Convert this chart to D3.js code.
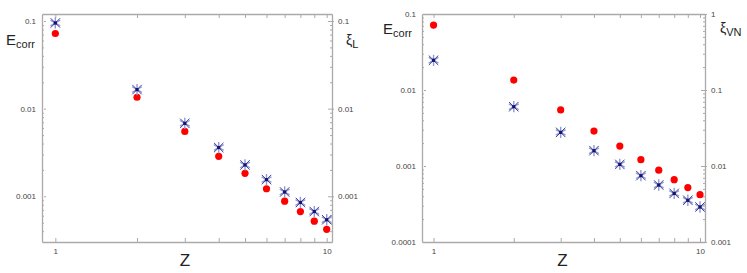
<!doctype html>
<html>
<head>
<meta charset="utf-8">
<script src="https://d3js.org/d3.v7.min.js"></script>
<style>
  body { margin: 0; background: #fff; }
  text { font-family: "Liberation Sans", Arial, sans-serif; }
</style>
</head>
<body>
<script>
// atomic number Z
var Z = [1, 2, 3, 4, 5, 6, 7, 8, 9, 10];

// left panel: correlation energy (red dots) and xi_L (blue stars)
var ecorrLeft = [0.072, 0.0135, 0.0055, 0.00286, 0.00183, 0.00122, 0.00088, 0.00067, 0.00052, 0.00042];
var xiL = [0.095, 0.0165, 0.0068, 0.0036, 0.00228, 0.00155, 0.00112, 0.00085, 0.00067, 0.00054];

// right panel: correlation energy (red dots) and xi_VN (blue stars)
var ecorrRight = [0.0716, 0.0135, 0.00546, 0.00288, 0.00183, 0.00121, 0.00088, 0.00066, 0.00052, 0.00042];
var xiVN = [0.246, 0.0603, 0.0277, 0.0159, 0.0105, 0.00746, 0.00562, 0.00436, 0.00354, 0.00289];

var leftTicks = [0.1, 0.01, 0.001];
var rightTicksA = [0.1, 0.01, 0.001, 0.0001];
var rightTicksB = [1, 0.1, 0.01, 0.001];

var svg = d3.select("body").append("svg").attr("width", 747).attr("height", 273);

function minors(lo, hi) {
  var out = [];
  for (var e = -5; e <= 1; e++) {
    for (var m = 2; m <= 9; m++) {
      var v = m * Math.pow(10, e);
      if (v > lo && v < hi) out.push(v);
    }
  }
  return out;
}

function panel(o) {
  var g = svg.append("g");
  var x = d3.scaleLog().domain(o.xdom).range([o.x0, o.x1]);
  var yA = d3.scaleLog().domain(o.yA).range([o.y1, o.y0]);
  var yB = d3.scaleLog().domain(o.yB).range([o.y1, o.y0]);
  var fmt = function (d) { return String(+d.toPrecision(1)); };

  // frame axes
  function styleAxis(sel) {
    sel.selectAll("path").attr("stroke", "#aaa").attr("stroke-width", 1.3);
    sel.selectAll("line").attr("stroke", "#aaa");
    sel.selectAll("text").attr("fill", "#444").style("font-size", "8px");
  }
  var bottom = g.append("g").attr("transform", "translate(0," + o.y1 + ")")
    .call(d3.axisBottom(x).tickValues(Z).tickSizeInner(-4).tickSizeOuter(0).tickPadding(6)
      .tickFormat(function (d) { return (d === 1 || d === 10) ? d : ""; }));
  styleAxis(bottom);
  var top = g.append("g").attr("transform", "translate(0," + o.y0 + ")")
    .call(d3.axisTop(x).tickValues(Z).tickSizeInner(-4).tickSizeOuter(0).tickFormat(""));
  styleAxis(top);

  var left = g.append("g").attr("transform", "translate(" + o.x0 + ",0)")
    .call(d3.axisLeft(yA).tickValues(o.ticksA).tickSizeInner(-4).tickSizeOuter(0).tickPadding(6).tickFormat(fmt));
  styleAxis(left);
  left.selectAll(".tick line").attr("x1", 2);
  var leftMin = g.append("g").attr("transform", "translate(" + o.x0 + ",0)")
    .call(d3.axisLeft(yA).tickValues(minors(o.yA[0], o.yA[1])).tickSizeInner(-2).tickSizeOuter(0).tickFormat(""));
  styleAxis(leftMin);
  leftMin.select("path").remove();

  var right = g.append("g").attr("transform", "translate(" + o.x1 + ",0)")
    .call(d3.axisRight(yB).tickValues(o.ticksB).tickSizeInner(-4).tickSizeOuter(0).tickPadding(6).tickFormat(fmt));
  styleAxis(right);
  right.selectAll(".tick line").attr("x1", -4).attr("x2", 2);
  var rightMin = g.append("g").attr("transform", "translate(" + o.x1 + ",0)")
    .call(d3.axisRight(yB).tickValues(minors(o.yB[0], o.yB[1])).tickSizeInner(-2).tickSizeOuter(0).tickFormat(""));
  styleAxis(rightMin);
  rightMin.select("path").remove();

  // red dots
  g.selectAll("circle.ec").data(o.red).enter().append("circle")
    .attr("cx", function (d, i) { return x(Z[i]); })
    .attr("cy", function (d) { return yA(d); })
    .attr("r", 3.6).attr("fill", "#f00");

  // blue stars
  var star = d3.symbol().type(d3.symbolAsterisk).size(90);
  var s = g.selectAll("g.st").data(o.blue).enter().append("g")
    .attr("transform", function (d, i) { return "translate(" + x(Z[i]) + "," + yB(d) + ")"; });
  s.append("path").attr("d", star).attr("fill", "none").attr("stroke", "#939ad2").attr("stroke-width", 1.4);
  s.append("path").attr("d", d3.symbol().type(d3.symbolTimes).size(60))
    .attr("fill", "none").attr("stroke", "#3a3f9a").attr("stroke-width", 1);
  s.append("rect").attr("x", -1.6).attr("y", -1.6).attr("width", 3.2).attr("height", 3.2).attr("fill", "#141470");

  // labels
  var e = g.append("text").attr("x", o.eX).attr("y", o.eY).attr("fill", "#222").style("font-size", "15px");
  e.append("tspan").text("E");
  e.append("tspan").attr("dy", 3).style("font-size", "11px").text("corr");
  var xi = g.append("text").attr("x", o.xiX).attr("y", o.xiY).attr("fill", "#222").style("font-size", "14px");
  xi.append("tspan").text("ξ");
  xi.append("tspan").attr("dy", 3).style("font-size", "11px").text(o.xiSub);
  g.append("text").attr("x", (o.x0 + o.x1) / 2 + o.zOff).attr("y", 266).attr("text-anchor", "middle")
    .attr("fill", "#222").style("font-size", "17px").text("Z");
}

panel({
  x0: 42, x1: 332, y0: 14, y1: 242,
  xdom: [0.893, 10.46], yA: [0.000301, 0.1202], yB: [0.000301, 0.1202],
  ticksA: leftTicks, ticksB: leftTicks,
  red: ecorrLeft, blue: xiL,
  eX: 6, eY: 45, xiX: 346, xiY: 45, xiSub: "L", zOff: -2
});

panel({
  x0: 422, x1: 705, y0: 14, y1: 242,
  xdom: [0.905, 10.44], yA: [0.0001, 0.1], yB: [0.001, 1],
  ticksA: rightTicksA, ticksB: rightTicksB,
  red: ecorrRight, blue: xiVN,
  eX: 383, eY: 34, xiX: 720, xiY: 33, xiSub: "VN", zOff: -1
});
</script>
</body>
</html>
